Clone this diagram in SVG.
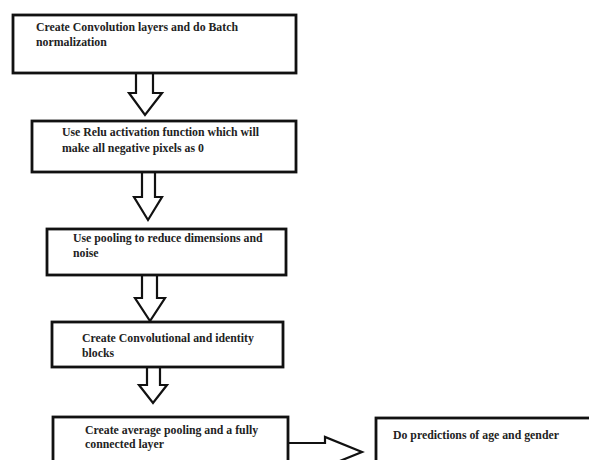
<svg xmlns="http://www.w3.org/2000/svg" width="589" height="460" viewBox="0 0 589 460">
<style>
.box{fill:#fff;stroke:#111;stroke-width:2.8}
.arr{fill:#fff;stroke:#111;stroke-width:2.2;stroke-linejoin:miter}
.t{font-family:"Liberation Serif","Times New Roman","DejaVu Serif",serif;font-weight:bold;font-size:11.8px;fill:#222}
</style>
<rect width="589" height="460" fill="#fff"/>
<g id="connectors">
<polygon class="arr" points="136,73 153,73 153,93 162,93 145,115 129,93 136,93"/>
<polygon class="arr" points="142,172 155,172 155,197 162,197 148,220 134,197 142,197"/>
<polygon class="arr" points="142,275 157,275 157,298 165,298 150,321 135,298 142,298"/>
<polygon class="arr" points="147,367 160,367 160,385 167,385 153,403 139,385 147,385"/>
<polygon class="arr" points="287,443 325,443 325,437 362,452 325,467 325,461 287,461"/>
</g>
<g id="n1">
<rect class="box" x="13" y="15" width="283" height="58"/>
<text class="t" x="36" y="31">Create Convolution layers and do Batch</text>
<text class="t" x="36" y="46">normalization</text>
</g>
<g id="n2">
<rect class="box" x="32" y="121" width="264" height="51"/>
<text class="t" x="62" y="136">Use Relu activation function which will</text>
<text class="t" x="62" y="152">make all negative pixels as 0</text>
</g>
<g id="n3">
<rect class="box" x="47" y="229" width="239" height="46"/>
<text class="t" x="73" y="242">Use pooling to reduce dimensions and</text>
<text class="t" x="73" y="257">noise</text>
</g>
<g id="n4">
<rect class="box" x="52" y="322" width="231" height="45"/>
<text class="t" x="82" y="342">Create Convolutional and identity</text>
<text class="t" x="82" y="357">blocks</text>
</g>
<g id="n5">
<rect class="box" x="53" y="417" width="235" height="60"/>
<text class="t" x="85" y="434">Create average pooling and a fully</text>
<text class="t" x="85" y="448">connected layer</text>
</g>
<g id="n6">
<rect class="box" x="376" y="418" width="230" height="60"/>
<text class="t" x="393" y="439">Do predictions of age and gender</text>
</g>
</svg>
